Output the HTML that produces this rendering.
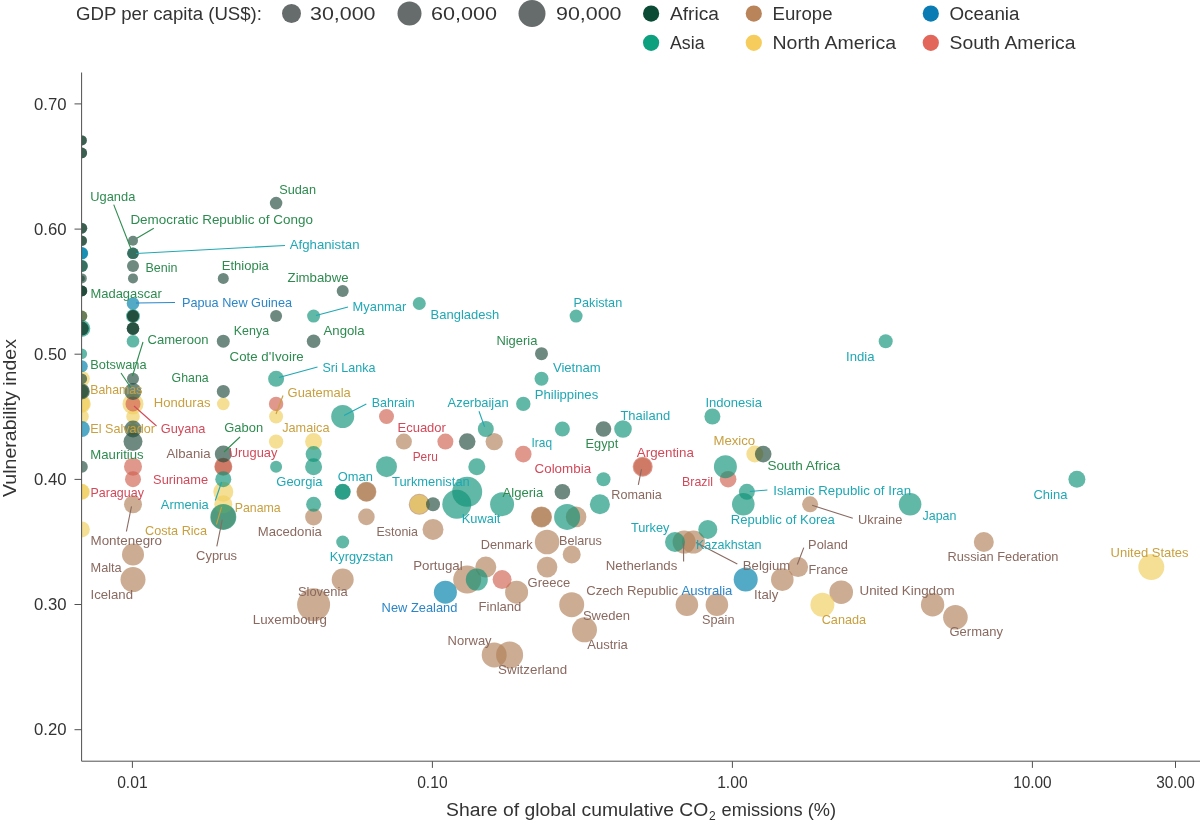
<!DOCTYPE html>
<html><head><meta charset="utf-8"><title>Chart</title>
<style>
html,body{margin:0;padding:0;background:#fff;}
body{width:1200px;height:826px;overflow:hidden;font-family:"Liberation Sans",sans-serif;}
svg{display:block;will-change:transform;font-family:"Liberation Sans",sans-serif;}
.l{font-size:13.0px;}
.t{font-size:16px;fill:#333;}
.g{font-size:19.2px;fill:#333;}
</style></head><body>
<svg width="1200" height="826" viewBox="0 0 1200 826">
<rect width="1200" height="826" fill="#fff"/>
<defs><clipPath id="cp"><rect x="81.8" y="80" width="1130" height="681"/></clipPath></defs>

<g class="g">
<text x="76" y="20" textLength="186" lengthAdjust="spacingAndGlyphs">GDP per capita (US$):</text>
<circle cx="291.5" cy="13.5" r="9.5" fill="#666b6b"/><text x="310" y="20" textLength="65.5" lengthAdjust="spacingAndGlyphs">30,000</text>
<circle cx="409.5" cy="13.5" r="12" fill="#666b6b"/><text x="431" y="20" textLength="66" lengthAdjust="spacingAndGlyphs">60,000</text>
<circle cx="532" cy="13.5" r="13.5" fill="#666b6b"/><text x="556" y="20" textLength="65.5" lengthAdjust="spacingAndGlyphs">90,000</text>
<circle cx="651.1" cy="13.6" r="8.1" fill="#0b4a35"/><text x="670" y="20.2" textLength="49" lengthAdjust="spacingAndGlyphs">Africa</text>
<circle cx="651.1" cy="42.8" r="8.1" fill="#0ca07e"/><text x="670" y="49.4" textLength="34.5" lengthAdjust="spacingAndGlyphs">Asia</text>
<circle cx="753.8" cy="13.6" r="8.1" fill="#b9845a"/><text x="772.5" y="20.2" textLength="60" lengthAdjust="spacingAndGlyphs">Europe</text>
<circle cx="753.8" cy="42.8" r="8.1" fill="#f6cd5c"/><text x="772.5" y="49.4" textLength="123.5" lengthAdjust="spacingAndGlyphs">North America</text>
<circle cx="930.8" cy="13.6" r="8.1" fill="#0b7cb3"/><text x="949.5" y="20.2" textLength="70" lengthAdjust="spacingAndGlyphs">Oceania</text>
<circle cx="930.8" cy="42.8" r="8.1" fill="#e2675a"/><text x="949.5" y="49.4" textLength="126" lengthAdjust="spacingAndGlyphs">South America</text>
</g>
<g clip-path="url(#cp)">
<circle cx="133.0" cy="504.3" r="9" fill="rgb(177,127,87)" fill-opacity="0.65"/>
<circle cx="133.0" cy="554.5" r="11" fill="rgb(177,127,87)" fill-opacity="0.65"/>
<circle cx="133.0" cy="579.6" r="12.5" fill="rgb(177,127,87)" fill-opacity="0.65"/>
<circle cx="223.3" cy="466.7" r="8.5" fill="rgb(177,127,87)" fill-opacity="0.65"/>
<circle cx="223.3" cy="516.9" r="12.5" fill="rgb(177,127,87)" fill-opacity="0.65"/>
<circle cx="313.6" cy="516.9" r="8.5" fill="rgb(177,127,87)" fill-opacity="0.65"/>
<circle cx="313.6" cy="604.7" r="16.5" fill="rgb(177,127,87)" fill-opacity="0.65"/>
<circle cx="342.7" cy="579.6" r="11" fill="rgb(177,127,87)" fill-opacity="0.65"/>
<circle cx="366.4" cy="491.8" r="10" fill="rgb(177,127,87)" fill-opacity="0.65"/>
<circle cx="366.4" cy="491.8" r="9.5" fill="rgb(177,127,87)" fill-opacity="0.65"/>
<circle cx="366.4" cy="516.9" r="8.3" fill="rgb(177,127,87)" fill-opacity="0.65"/>
<circle cx="403.9" cy="441.6" r="8" fill="rgb(177,127,87)" fill-opacity="0.65"/>
<circle cx="419.3" cy="504.3" r="10.5" fill="rgb(177,127,87)" fill-opacity="0.65"/>
<circle cx="433.0" cy="529.4" r="10.5" fill="rgb(177,127,87)" fill-opacity="0.65"/>
<circle cx="467.2" cy="579.6" r="14" fill="rgb(177,127,87)" fill-opacity="0.65"/>
<circle cx="485.8" cy="567.1" r="10.5" fill="rgb(177,127,87)" fill-opacity="0.65"/>
<circle cx="494.2" cy="441.6" r="8.7" fill="rgb(177,127,87)" fill-opacity="0.65"/>
<circle cx="494.2" cy="654.9" r="12.5" fill="rgb(177,127,87)" fill-opacity="0.65"/>
<circle cx="509.6" cy="654.9" r="13.5" fill="rgb(177,127,87)" fill-opacity="0.65"/>
<circle cx="516.6" cy="592.2" r="11.5" fill="rgb(177,127,87)" fill-opacity="0.65"/>
<circle cx="541.5" cy="516.9" r="10.5" fill="rgb(177,127,87)" fill-opacity="0.65"/>
<circle cx="541.5" cy="516.9" r="10" fill="rgb(177,127,87)" fill-opacity="0.65"/>
<circle cx="547.1" cy="542.0" r="12.3" fill="rgb(177,127,87)" fill-opacity="0.65"/>
<circle cx="547.1" cy="567.1" r="10.3" fill="rgb(177,127,87)" fill-opacity="0.65"/>
<circle cx="576.1" cy="516.9" r="10.3" fill="rgb(177,127,87)" fill-opacity="0.65"/>
<circle cx="571.7" cy="554.5" r="9" fill="rgb(177,127,87)" fill-opacity="0.65"/>
<circle cx="571.7" cy="604.7" r="12.5" fill="rgb(177,127,87)" fill-opacity="0.65"/>
<circle cx="584.5" cy="629.8" r="12.5" fill="rgb(177,127,87)" fill-opacity="0.65"/>
<circle cx="642.7" cy="466.7" r="9" fill="rgb(177,127,87)" fill-opacity="0.65"/>
<circle cx="684.1" cy="542.0" r="11.5" fill="rgb(177,127,87)" fill-opacity="0.65"/>
<circle cx="693.4" cy="542.0" r="11.5" fill="rgb(177,127,87)" fill-opacity="0.65"/>
<circle cx="686.9" cy="604.7" r="11.3" fill="rgb(177,127,87)" fill-opacity="0.65"/>
<circle cx="716.9" cy="604.7" r="11.3" fill="rgb(177,127,87)" fill-opacity="0.65"/>
<circle cx="782.3" cy="579.6" r="11.3" fill="rgb(177,127,87)" fill-opacity="0.65"/>
<circle cx="798.1" cy="567.1" r="10" fill="rgb(177,127,87)" fill-opacity="0.65"/>
<circle cx="810.1" cy="504.3" r="8" fill="rgb(177,127,87)" fill-opacity="0.65"/>
<circle cx="841.2" cy="592.2" r="11.8" fill="rgb(177,127,87)" fill-opacity="0.65"/>
<circle cx="932.6" cy="604.7" r="11.7" fill="rgb(177,127,87)" fill-opacity="0.65"/>
<circle cx="955.4" cy="617.3" r="12.3" fill="rgb(177,127,87)" fill-opacity="0.65"/>
<circle cx="983.8" cy="542.0" r="10" fill="rgb(177,127,87)" fill-opacity="0.65"/>
<circle cx="81.8" cy="316.1" r="5.5" fill="rgb(240,206,92)" fill-opacity="0.65"/>
<circle cx="81.8" cy="378.8" r="8" fill="rgb(240,206,92)" fill-opacity="0.65"/>
<circle cx="81.8" cy="391.4" r="7" fill="rgb(240,206,92)" fill-opacity="0.65"/>
<circle cx="81.8" cy="403.9" r="9" fill="rgb(240,206,92)" fill-opacity="0.65"/>
<circle cx="81.8" cy="403.9" r="8" fill="rgb(240,206,92)" fill-opacity="0.65"/>
<circle cx="81.8" cy="416.5" r="7" fill="rgb(240,206,92)" fill-opacity="0.65"/>
<circle cx="81.8" cy="491.8" r="8" fill="rgb(240,206,92)" fill-opacity="0.65"/>
<circle cx="81.8" cy="491.8" r="7.5" fill="rgb(240,206,92)" fill-opacity="0.65"/>
<circle cx="81.8" cy="529.4" r="8" fill="rgb(240,206,92)" fill-opacity="0.65"/>
<circle cx="133.0" cy="403.9" r="10.5" fill="rgb(240,206,92)" fill-opacity="0.65"/>
<circle cx="133.0" cy="416.5" r="6.8" fill="rgb(240,206,92)" fill-opacity="0.65"/>
<circle cx="133.0" cy="429.0" r="6" fill="rgb(240,206,92)" fill-opacity="0.65"/>
<circle cx="223.3" cy="403.9" r="6.3" fill="rgb(240,206,92)" fill-opacity="0.65"/>
<circle cx="223.3" cy="491.8" r="10" fill="rgb(240,206,92)" fill-opacity="0.65"/>
<circle cx="223.3" cy="504.3" r="9" fill="rgb(240,206,92)" fill-opacity="0.65"/>
<circle cx="276.1" cy="416.5" r="7" fill="rgb(240,206,92)" fill-opacity="0.65"/>
<circle cx="276.1" cy="441.6" r="7.2" fill="rgb(240,206,92)" fill-opacity="0.65"/>
<circle cx="313.6" cy="441.6" r="8.5" fill="rgb(240,206,92)" fill-opacity="0.65"/>
<circle cx="419.3" cy="504.3" r="9.5" fill="rgb(240,206,92)" fill-opacity="0.65"/>
<circle cx="754.8" cy="454.1" r="8.5" fill="rgb(240,206,92)" fill-opacity="0.65"/>
<circle cx="822.4" cy="604.7" r="12" fill="rgb(240,206,92)" fill-opacity="0.65"/>
<circle cx="1151.3" cy="567.1" r="13" fill="rgb(240,206,92)" fill-opacity="0.65"/>
<circle cx="133.0" cy="403.9" r="7.5" fill="rgb(207,95,78)" fill-opacity="0.65"/>
<circle cx="133.0" cy="466.7" r="9" fill="rgb(207,95,78)" fill-opacity="0.65"/>
<circle cx="133.0" cy="479.2" r="8" fill="rgb(207,95,78)" fill-opacity="0.65"/>
<circle cx="223.3" cy="466.7" r="9" fill="rgb(207,95,78)" fill-opacity="0.65"/>
<circle cx="276.1" cy="403.9" r="7.2" fill="rgb(207,95,78)" fill-opacity="0.65"/>
<circle cx="386.5" cy="416.5" r="7.5" fill="rgb(207,95,78)" fill-opacity="0.65"/>
<circle cx="445.4" cy="441.6" r="8" fill="rgb(207,95,78)" fill-opacity="0.65"/>
<circle cx="502.1" cy="579.6" r="9.5" fill="rgb(207,95,78)" fill-opacity="0.65"/>
<circle cx="523.3" cy="454.1" r="8.3" fill="rgb(207,95,78)" fill-opacity="0.65"/>
<circle cx="642.7" cy="466.7" r="10" fill="rgb(207,95,78)" fill-opacity="0.65"/>
<circle cx="728.1" cy="479.2" r="8.3" fill="rgb(207,95,78)" fill-opacity="0.65"/>
<circle cx="81.8" cy="253.3" r="6.3" fill="rgb(0,130,171)" fill-opacity="0.68"/>
<circle cx="81.8" cy="253.3" r="6" fill="rgb(0,130,171)" fill-opacity="0.68"/>
<circle cx="81.8" cy="366.3" r="6" fill="rgb(0,130,171)" fill-opacity="0.68"/>
<circle cx="81.8" cy="429.0" r="8" fill="rgb(0,130,171)" fill-opacity="0.68"/>
<circle cx="133.0" cy="303.5" r="6.3" fill="rgb(0,130,171)" fill-opacity="0.68"/>
<circle cx="445.4" cy="592.2" r="11.5" fill="rgb(0,130,171)" fill-opacity="0.68"/>
<circle cx="745.7" cy="579.6" r="12" fill="rgb(0,130,171)" fill-opacity="0.68"/>
<circle cx="81.8" cy="265.9" r="6" fill="rgb(14,146,118)" fill-opacity="0.65"/>
<circle cx="81.8" cy="328.6" r="8.5" fill="rgb(14,146,118)" fill-opacity="0.65"/>
<circle cx="81.8" cy="328.6" r="7" fill="rgb(14,146,118)" fill-opacity="0.65"/>
<circle cx="81.8" cy="353.7" r="5.3" fill="rgb(14,146,118)" fill-opacity="0.65"/>
<circle cx="133.0" cy="253.3" r="5.8" fill="rgb(14,146,118)" fill-opacity="0.65"/>
<circle cx="133.0" cy="316.1" r="7" fill="rgb(14,146,118)" fill-opacity="0.65"/>
<circle cx="133.0" cy="341.2" r="6.3" fill="rgb(14,146,118)" fill-opacity="0.65"/>
<circle cx="223.3" cy="479.2" r="8" fill="rgb(14,146,118)" fill-opacity="0.65"/>
<circle cx="223.3" cy="516.9" r="13" fill="rgb(14,146,118)" fill-opacity="0.65"/>
<circle cx="276.1" cy="378.8" r="8" fill="rgb(14,146,118)" fill-opacity="0.65"/>
<circle cx="276.1" cy="466.7" r="6" fill="rgb(14,146,118)" fill-opacity="0.65"/>
<circle cx="313.6" cy="316.1" r="6.5" fill="rgb(14,146,118)" fill-opacity="0.65"/>
<circle cx="313.6" cy="454.1" r="8" fill="rgb(14,146,118)" fill-opacity="0.65"/>
<circle cx="313.6" cy="466.7" r="8.5" fill="rgb(14,146,118)" fill-opacity="0.65"/>
<circle cx="313.6" cy="504.3" r="7.5" fill="rgb(14,146,118)" fill-opacity="0.65"/>
<circle cx="342.7" cy="416.5" r="11.5" fill="rgb(14,146,118)" fill-opacity="0.65"/>
<circle cx="342.7" cy="491.8" r="8" fill="rgb(14,146,118)" fill-opacity="0.65"/>
<circle cx="342.7" cy="491.8" r="7.8" fill="rgb(14,146,118)" fill-opacity="0.65"/>
<circle cx="342.7" cy="542.0" r="6.5" fill="rgb(14,146,118)" fill-opacity="0.65"/>
<circle cx="386.5" cy="466.7" r="10.5" fill="rgb(14,146,118)" fill-opacity="0.65"/>
<circle cx="419.3" cy="303.5" r="6.5" fill="rgb(14,146,118)" fill-opacity="0.65"/>
<circle cx="456.8" cy="504.3" r="14.5" fill="rgb(14,146,118)" fill-opacity="0.65"/>
<circle cx="467.2" cy="491.8" r="15" fill="rgb(14,146,118)" fill-opacity="0.65"/>
<circle cx="476.8" cy="466.7" r="8.5" fill="rgb(14,146,118)" fill-opacity="0.65"/>
<circle cx="476.8" cy="579.6" r="11" fill="rgb(14,146,118)" fill-opacity="0.65"/>
<circle cx="485.8" cy="429.0" r="8" fill="rgb(14,146,118)" fill-opacity="0.65"/>
<circle cx="502.1" cy="504.3" r="12" fill="rgb(14,146,118)" fill-opacity="0.65"/>
<circle cx="523.3" cy="403.9" r="7.2" fill="rgb(14,146,118)" fill-opacity="0.65"/>
<circle cx="541.5" cy="378.8" r="7" fill="rgb(14,146,118)" fill-opacity="0.65"/>
<circle cx="562.4" cy="429.0" r="7.5" fill="rgb(14,146,118)" fill-opacity="0.65"/>
<circle cx="567.1" cy="516.9" r="13" fill="rgb(14,146,118)" fill-opacity="0.65"/>
<circle cx="576.1" cy="316.1" r="6.5" fill="rgb(14,146,118)" fill-opacity="0.65"/>
<circle cx="603.5" cy="479.2" r="7" fill="rgb(14,146,118)" fill-opacity="0.65"/>
<circle cx="599.9" cy="504.3" r="10" fill="rgb(14,146,118)" fill-opacity="0.65"/>
<circle cx="623.0" cy="429.0" r="8.8" fill="rgb(14,146,118)" fill-opacity="0.65"/>
<circle cx="675.0" cy="542.0" r="10" fill="rgb(14,146,118)" fill-opacity="0.65"/>
<circle cx="707.8" cy="529.4" r="9.5" fill="rgb(14,146,118)" fill-opacity="0.65"/>
<circle cx="712.4" cy="416.5" r="8" fill="rgb(14,146,118)" fill-opacity="0.65"/>
<circle cx="725.4" cy="466.7" r="11.5" fill="rgb(14,146,118)" fill-opacity="0.65"/>
<circle cx="743.3" cy="504.3" r="11.3" fill="rgb(14,146,118)" fill-opacity="0.65"/>
<circle cx="746.9" cy="491.8" r="8" fill="rgb(14,146,118)" fill-opacity="0.65"/>
<circle cx="885.7" cy="341.2" r="7" fill="rgb(14,146,118)" fill-opacity="0.65"/>
<circle cx="910.1" cy="504.3" r="11.3" fill="rgb(14,146,118)" fill-opacity="0.65"/>
<circle cx="1076.9" cy="479.2" r="8.5" fill="rgb(14,146,118)" fill-opacity="0.65"/>
<circle cx="81.8" cy="140.4" r="5" fill="rgb(32,73,58)" fill-opacity="0.65"/>
<circle cx="81.8" cy="140.4" r="5" fill="rgb(32,73,58)" fill-opacity="0.65"/>
<circle cx="81.8" cy="152.9" r="5.3" fill="rgb(32,73,58)" fill-opacity="0.65"/>
<circle cx="81.8" cy="152.9" r="5.3" fill="rgb(32,73,58)" fill-opacity="0.65"/>
<circle cx="81.8" cy="228.2" r="5.5" fill="rgb(32,73,58)" fill-opacity="0.65"/>
<circle cx="81.8" cy="228.2" r="5.3" fill="rgb(32,73,58)" fill-opacity="0.65"/>
<circle cx="81.8" cy="240.8" r="5.3" fill="rgb(32,73,58)" fill-opacity="0.65"/>
<circle cx="81.8" cy="240.8" r="5" fill="rgb(32,73,58)" fill-opacity="0.65"/>
<circle cx="81.8" cy="265.9" r="6" fill="rgb(32,73,58)" fill-opacity="0.65"/>
<circle cx="81.8" cy="278.4" r="5" fill="rgb(32,73,58)" fill-opacity="0.65"/>
<circle cx="81.8" cy="278.4" r="3" fill="rgb(32,73,58)" fill-opacity="0.65"/>
<circle cx="81.8" cy="290.9" r="5.5" fill="rgb(32,73,58)" fill-opacity="0.65"/>
<circle cx="81.8" cy="290.9" r="5.3" fill="rgb(32,73,58)" fill-opacity="0.65"/>
<circle cx="81.8" cy="290.9" r="5.3" fill="rgb(32,73,58)" fill-opacity="0.65"/>
<circle cx="81.8" cy="290.9" r="5" fill="rgb(32,73,58)" fill-opacity="0.65"/>
<circle cx="81.8" cy="316.1" r="5.5" fill="rgb(32,73,58)" fill-opacity="0.65"/>
<circle cx="81.8" cy="328.6" r="7" fill="rgb(32,73,58)" fill-opacity="0.65"/>
<circle cx="81.8" cy="328.6" r="6.5" fill="rgb(32,73,58)" fill-opacity="0.65"/>
<circle cx="81.8" cy="378.8" r="5.3" fill="rgb(32,73,58)" fill-opacity="0.65"/>
<circle cx="81.8" cy="391.4" r="8" fill="rgb(32,73,58)" fill-opacity="0.65"/>
<circle cx="81.8" cy="391.4" r="7" fill="rgb(32,73,58)" fill-opacity="0.65"/>
<circle cx="81.8" cy="466.7" r="6" fill="rgb(32,73,58)" fill-opacity="0.65"/>
<circle cx="133.0" cy="240.8" r="5" fill="rgb(32,73,58)" fill-opacity="0.65"/>
<circle cx="133.0" cy="253.3" r="5.8" fill="rgb(32,73,58)" fill-opacity="0.65"/>
<circle cx="133.0" cy="265.9" r="6" fill="rgb(32,73,58)" fill-opacity="0.65"/>
<circle cx="133.0" cy="278.4" r="5" fill="rgb(32,73,58)" fill-opacity="0.65"/>
<circle cx="133.0" cy="316.1" r="6" fill="rgb(32,73,58)" fill-opacity="0.65"/>
<circle cx="133.0" cy="316.1" r="6" fill="rgb(32,73,58)" fill-opacity="0.65"/>
<circle cx="133.0" cy="316.1" r="5.8" fill="rgb(32,73,58)" fill-opacity="0.65"/>
<circle cx="133.0" cy="328.6" r="6.3" fill="rgb(32,73,58)" fill-opacity="0.65"/>
<circle cx="133.0" cy="328.6" r="6.3" fill="rgb(32,73,58)" fill-opacity="0.65"/>
<circle cx="133.0" cy="328.6" r="6" fill="rgb(32,73,58)" fill-opacity="0.65"/>
<circle cx="133.0" cy="378.8" r="6" fill="rgb(32,73,58)" fill-opacity="0.65"/>
<circle cx="133.0" cy="391.4" r="8.5" fill="rgb(32,73,58)" fill-opacity="0.65"/>
<circle cx="133.0" cy="429.0" r="8.5" fill="rgb(32,73,58)" fill-opacity="0.65"/>
<circle cx="133.0" cy="441.6" r="9.5" fill="rgb(32,73,58)" fill-opacity="0.65"/>
<circle cx="223.3" cy="278.4" r="5.5" fill="rgb(32,73,58)" fill-opacity="0.65"/>
<circle cx="223.3" cy="341.2" r="6.5" fill="rgb(32,73,58)" fill-opacity="0.65"/>
<circle cx="223.3" cy="391.4" r="6.5" fill="rgb(32,73,58)" fill-opacity="0.65"/>
<circle cx="223.3" cy="454.1" r="8.5" fill="rgb(32,73,58)" fill-opacity="0.65"/>
<circle cx="276.1" cy="203.1" r="6.3" fill="rgb(32,73,58)" fill-opacity="0.65"/>
<circle cx="276.1" cy="316.1" r="6" fill="rgb(32,73,58)" fill-opacity="0.65"/>
<circle cx="313.6" cy="341.2" r="6.8" fill="rgb(32,73,58)" fill-opacity="0.65"/>
<circle cx="342.7" cy="290.9" r="6" fill="rgb(32,73,58)" fill-opacity="0.65"/>
<circle cx="433.0" cy="504.3" r="7" fill="rgb(32,73,58)" fill-opacity="0.65"/>
<circle cx="467.2" cy="441.6" r="8.3" fill="rgb(32,73,58)" fill-opacity="0.65"/>
<circle cx="541.5" cy="353.7" r="6.5" fill="rgb(32,73,58)" fill-opacity="0.65"/>
<circle cx="562.4" cy="491.8" r="7.8" fill="rgb(32,73,58)" fill-opacity="0.65"/>
<circle cx="603.5" cy="429.0" r="7.8" fill="rgb(32,73,58)" fill-opacity="0.65"/>
<circle cx="763.2" cy="454.1" r="8.3" fill="rgb(32,73,58)" fill-opacity="0.65"/>
</g>
<g stroke-width="1.1" fill="none">
<line x1="113.7" y1="204.6" x2="131" y2="249" stroke="#2e8b50"/>
<line x1="153.8" y1="228.2" x2="136.8" y2="238.2" stroke="#2e8b50"/>
<line x1="285" y1="245.5" x2="136" y2="253.5" stroke="#1fa8b4"/>
<line x1="175" y1="302.5" x2="136" y2="303" stroke="#2b86c8"/>
<line x1="348" y1="307" x2="316" y2="315.5" stroke="#1fa8b4"/>
<line x1="143" y1="342" x2="132.5" y2="376" stroke="#2e8b50"/>
<line x1="121" y1="373" x2="131" y2="388" stroke="#2e8b50"/>
<line x1="134" y1="406" x2="156.5" y2="426" stroke="#d24a5a"/>
<line x1="317.5" y1="367" x2="279" y2="377.5" stroke="#1fa8b4"/>
<line x1="283" y1="395.5" x2="276" y2="414" stroke="#c9a040"/>
<line x1="240" y1="437" x2="224" y2="452" stroke="#2e8b50"/>
<line x1="366.3" y1="404" x2="344" y2="415.5" stroke="#1fa8b4"/>
<line x1="479" y1="411.2" x2="484.6" y2="426.9" stroke="#1fa8b4"/>
<line x1="221.6" y1="482" x2="215.3" y2="500.5" stroke="#1fa8b4"/>
<line x1="221.6" y1="507" x2="216.4" y2="524.5" stroke="#c9a040"/>
<line x1="222.3" y1="519.7" x2="216.8" y2="546.3" stroke="#8a6a60"/>
<line x1="131.5" y1="506.4" x2="126.4" y2="531.5" stroke="#8a6a60"/>
<line x1="641.5" y1="469.2" x2="638.3" y2="484.9" stroke="#8a6a60"/>
<line x1="683.6" y1="543.3" x2="683.6" y2="561.6" stroke="#8a6a60"/>
<line x1="696" y1="542.5" x2="737.3" y2="564" stroke="#8a6a60"/>
<line x1="749.8" y1="491.5" x2="767.4" y2="490" stroke="#1fa8b4"/>
<line x1="812.1" y1="505.3" x2="852.8" y2="518.3" stroke="#8a6a60"/>
<line x1="803.8" y1="547.6" x2="797.3" y2="564.5" stroke="#8a6a60"/>
</g>
<g class="l">
<text x="90.3" y="200.9" fill="#2e8b50" textLength="45" lengthAdjust="spacingAndGlyphs">Uganda</text>
<text x="130.4" y="224.3" fill="#2e8b50" textLength="182.5" lengthAdjust="spacingAndGlyphs">Democratic Republic of Congo</text>
<text x="145.4" y="272.1" fill="#2e8b50" textLength="32" lengthAdjust="spacingAndGlyphs">Benin</text>
<text x="221.7" y="269.5" fill="#2e8b50" textLength="47.1" lengthAdjust="spacingAndGlyphs">Ethiopia</text>
<text x="279.2" y="193.8" fill="#2e8b50" textLength="36.8" lengthAdjust="spacingAndGlyphs">Sudan</text>
<text x="289.8" y="249.0" fill="#1fa8b4" textLength="69.7" lengthAdjust="spacingAndGlyphs">Afghanistan</text>
<text x="287.6" y="281.5" fill="#2e8b50" textLength="61" lengthAdjust="spacingAndGlyphs">Zimbabwe</text>
<text x="182" y="306.7" fill="#2b86c8" textLength="110" lengthAdjust="spacingAndGlyphs">Papua New Guinea</text>
<text x="352.6" y="310.8" fill="#1fa8b4" textLength="53.6" lengthAdjust="spacingAndGlyphs">Myanmar</text>
<text x="233.8" y="335.4" fill="#2e8b50" textLength="35.3" lengthAdjust="spacingAndGlyphs">Kenya</text>
<text x="323.6" y="335.4" fill="#2e8b50" textLength="41" lengthAdjust="spacingAndGlyphs">Angola</text>
<text x="90.5" y="298.0" fill="#2e8b50" textLength="71.2" lengthAdjust="spacingAndGlyphs">Madagascar</text>
<text x="147.5" y="343.8" fill="#2e8b50" textLength="61" lengthAdjust="spacingAndGlyphs">Cameroon</text>
<text x="90.3" y="368.8" fill="#2e8b50" textLength="56.2" lengthAdjust="spacingAndGlyphs">Botswana</text>
<text x="171.6" y="382.0" fill="#2e8b50" textLength="37" lengthAdjust="spacingAndGlyphs">Ghana</text>
<text x="90.3" y="393.9" fill="#c9a040" textLength="52" lengthAdjust="spacingAndGlyphs">Bahamas</text>
<text x="153.8" y="407.4" fill="#c9a040" textLength="56.7" lengthAdjust="spacingAndGlyphs">Honduras</text>
<text x="90.3" y="432.8" fill="#c9a040" textLength="64.6" lengthAdjust="spacingAndGlyphs">El Salvador</text>
<text x="160.7" y="432.8" fill="#d24a5a" textLength="44.8" lengthAdjust="spacingAndGlyphs">Guyana</text>
<text x="224.3" y="432.3" fill="#2e8b50" textLength="38.8" lengthAdjust="spacingAndGlyphs">Gabon</text>
<text x="90.3" y="458.7" fill="#2e8b50" textLength="53.4" lengthAdjust="spacingAndGlyphs">Mauritius</text>
<text x="166.5" y="458.1" fill="#8a6a60" textLength="44" lengthAdjust="spacingAndGlyphs">Albania</text>
<text x="228.8" y="457.4" fill="#d24a5a" textLength="48.6" lengthAdjust="spacingAndGlyphs">Uruguay</text>
<text x="229.6" y="360.9" fill="#2e8b50" textLength="74.1" lengthAdjust="spacingAndGlyphs">Cote d'Ivoire</text>
<text x="322.5" y="371.7" fill="#1fa8b4" textLength="53" lengthAdjust="spacingAndGlyphs">Sri Lanka</text>
<text x="287.6" y="396.8" fill="#c9a040" textLength="63.2" lengthAdjust="spacingAndGlyphs">Guatemala</text>
<text x="282.2" y="431.6" fill="#c9a040" textLength="47.3" lengthAdjust="spacingAndGlyphs">Jamaica</text>
<text x="208.1" y="483.9" fill="#d24a5a" text-anchor="end" textLength="55" lengthAdjust="spacingAndGlyphs">Suriname</text>
<text x="276.3" y="486.1" fill="#1fa8b4" textLength="46.2" lengthAdjust="spacingAndGlyphs">Georgia</text>
<text x="337.8" y="481.3" fill="#1fa8b4" textLength="35.1" lengthAdjust="spacingAndGlyphs">Oman</text>
<text x="208.8" y="509.3" fill="#1fa8b4" text-anchor="end" textLength="48" lengthAdjust="spacingAndGlyphs">Armenia</text>
<text x="234.7" y="511.5" fill="#c9a040" textLength="46" lengthAdjust="spacingAndGlyphs">Panama</text>
<text x="207" y="535.2" fill="#c9a040" text-anchor="end" textLength="62" lengthAdjust="spacingAndGlyphs">Costa Rica</text>
<text x="257.8" y="536.3" fill="#8a6a60" textLength="64.1" lengthAdjust="spacingAndGlyphs">Macedonia</text>
<text x="196.1" y="559.8" fill="#8a6a60" textLength="41" lengthAdjust="spacingAndGlyphs">Cyprus</text>
<text x="329.7" y="560.9" fill="#1fa8b4" textLength="63.4" lengthAdjust="spacingAndGlyphs">Kyrgyzstan</text>
<text x="297.9" y="595.8" fill="#8a6a60" textLength="49.7" lengthAdjust="spacingAndGlyphs">Slovenia</text>
<text x="252.8" y="624.1" fill="#8a6a60" textLength="74.1" lengthAdjust="spacingAndGlyphs">Luxembourg</text>
<text x="90.5" y="496.7" fill="#d24a5a" textLength="53.4" lengthAdjust="spacingAndGlyphs">Paraguay</text>
<text x="90.5" y="544.6" fill="#8a6a60" textLength="71.5" lengthAdjust="spacingAndGlyphs">Montenegro</text>
<text x="90.5" y="571.9" fill="#8a6a60" textLength="31.2" lengthAdjust="spacingAndGlyphs">Malta</text>
<text x="90.5" y="598.5" fill="#8a6a60" textLength="42.5" lengthAdjust="spacingAndGlyphs">Iceland</text>
<text x="430.6" y="318.5" fill="#1fa8b4" textLength="68.6" lengthAdjust="spacingAndGlyphs">Bangladesh</text>
<text x="496.4" y="344.8" fill="#2e8b50" textLength="41" lengthAdjust="spacingAndGlyphs">Nigeria</text>
<text x="371.8" y="407.4" fill="#1fa8b4" textLength="42.9" lengthAdjust="spacingAndGlyphs">Bahrain</text>
<text x="447.6" y="407.4" fill="#1fa8b4" textLength="61" lengthAdjust="spacingAndGlyphs">Azerbaijan</text>
<text x="397.5" y="431.8" fill="#d24a5a" textLength="48.4" lengthAdjust="spacingAndGlyphs">Ecuador</text>
<text x="534.8" y="399.2" fill="#1fa8b4" textLength="63.4" lengthAdjust="spacingAndGlyphs">Philippines</text>
<text x="552.9" y="371.8" fill="#1fa8b4" textLength="47.9" lengthAdjust="spacingAndGlyphs">Vietnam</text>
<text x="573.6" y="306.5" fill="#1fa8b4" textLength="48.6" lengthAdjust="spacingAndGlyphs">Pakistan</text>
<text x="620.4" y="420.1" fill="#1fa8b4" textLength="49.7" lengthAdjust="spacingAndGlyphs">Thailand</text>
<text x="705.4" y="406.5" fill="#1fa8b4" textLength="56.6" lengthAdjust="spacingAndGlyphs">Indonesia</text>
<text x="531.5" y="446.8" fill="#1fa8b4" textLength="20.5" lengthAdjust="spacingAndGlyphs">Iraq</text>
<text x="585.6" y="448.0" fill="#2e8b50" textLength="32.7" lengthAdjust="spacingAndGlyphs">Egypt</text>
<text x="412.7" y="460.8" fill="#d24a5a" textLength="25.1" lengthAdjust="spacingAndGlyphs">Peru</text>
<text x="392" y="486.3" fill="#1fa8b4" textLength="77.8" lengthAdjust="spacingAndGlyphs">Turkmenistan</text>
<text x="502.5" y="496.8" fill="#2e8b50" textLength="40.7" lengthAdjust="spacingAndGlyphs">Algeria</text>
<text x="461.8" y="523.3" fill="#1fa8b4" textLength="38.6" lengthAdjust="spacingAndGlyphs">Kuwait</text>
<text x="376.6" y="536.0" fill="#8a6a60" textLength="41.4" lengthAdjust="spacingAndGlyphs">Estonia</text>
<text x="480.7" y="548.6" fill="#8a6a60" textLength="51.9" lengthAdjust="spacingAndGlyphs">Denmark</text>
<text x="413.2" y="570.2" fill="#8a6a60" textLength="49.5" lengthAdjust="spacingAndGlyphs">Portugal</text>
<text x="527.6" y="586.9" fill="#8a6a60" textLength="42.7" lengthAdjust="spacingAndGlyphs">Greece</text>
<text x="534.5" y="472.7" fill="#d24a5a" textLength="56.6" lengthAdjust="spacingAndGlyphs">Colombia</text>
<text x="381.6" y="612.0" fill="#2b86c8" textLength="75.8" lengthAdjust="spacingAndGlyphs">New Zealand</text>
<text x="478.5" y="610.7" fill="#8a6a60" textLength="42.9" lengthAdjust="spacingAndGlyphs">Finland</text>
<text x="447.6" y="644.6" fill="#8a6a60" textLength="44" lengthAdjust="spacingAndGlyphs">Norway</text>
<text x="498.1" y="673.8" fill="#8a6a60" textLength="69" lengthAdjust="spacingAndGlyphs">Switzerland</text>
<text x="636.8" y="456.6" fill="#d24a5a" textLength="57.1" lengthAdjust="spacingAndGlyphs">Argentina</text>
<text x="682.1" y="486.1" fill="#d24a5a" textLength="30.9" lengthAdjust="spacingAndGlyphs">Brazil</text>
<text x="611.3" y="498.5" fill="#8a6a60" textLength="50.5" lengthAdjust="spacingAndGlyphs">Romania</text>
<text x="630.9" y="531.8" fill="#1fa8b4" textLength="38.6" lengthAdjust="spacingAndGlyphs">Turkey</text>
<text x="559" y="545.4" fill="#8a6a60" textLength="42.9" lengthAdjust="spacingAndGlyphs">Belarus</text>
<text x="605.8" y="569.9" fill="#8a6a60" textLength="71.5" lengthAdjust="spacingAndGlyphs">Netherlands</text>
<text x="586.2" y="594.7" fill="#8a6a60" textLength="91.9" lengthAdjust="spacingAndGlyphs">Czech Republic</text>
<text x="681.4" y="595.1" fill="#2b86c8" textLength="51" lengthAdjust="spacingAndGlyphs">Australia</text>
<text x="696" y="548.7" fill="#1fa8b4" textLength="65.4" lengthAdjust="spacingAndGlyphs">Kazakhstan</text>
<text x="713.4" y="445.0" fill="#c9a040" textLength="41.8" lengthAdjust="spacingAndGlyphs">Mexico</text>
<text x="767.4" y="469.8" fill="#2e8b50" textLength="73" lengthAdjust="spacingAndGlyphs">South Africa</text>
<text x="773.3" y="494.5" fill="#1fa8b4" textLength="137.8" lengthAdjust="spacingAndGlyphs">Islamic Republic of Iran</text>
<text x="730.8" y="523.6" fill="#1fa8b4" textLength="104.1" lengthAdjust="spacingAndGlyphs">Republic of Korea</text>
<text x="808.1" y="548.9" fill="#8a6a60" textLength="39.9" lengthAdjust="spacingAndGlyphs">Poland</text>
<text x="742.8" y="569.8" fill="#8a6a60" textLength="47.5" lengthAdjust="spacingAndGlyphs">Belgium</text>
<text x="808.6" y="574.1" fill="#8a6a60" textLength="39.4" lengthAdjust="spacingAndGlyphs">France</text>
<text x="754.1" y="598.7" fill="#8a6a60" textLength="24.2" lengthAdjust="spacingAndGlyphs">Italy</text>
<text x="702" y="623.8" fill="#8a6a60" textLength="32.5" lengthAdjust="spacingAndGlyphs">Spain</text>
<text x="821.7" y="623.8" fill="#c9a040" textLength="44.4" lengthAdjust="spacingAndGlyphs">Canada</text>
<text x="1033.5" y="499.1" fill="#1fa8b4" textLength="33.9" lengthAdjust="spacingAndGlyphs">China</text>
<text x="922.5" y="519.5" fill="#1fa8b4" textLength="33.9" lengthAdjust="spacingAndGlyphs">Japan</text>
<text x="858" y="524.0" fill="#8a6a60" textLength="44.4" lengthAdjust="spacingAndGlyphs">Ukraine</text>
<text x="947.4" y="560.9" fill="#8a6a60" textLength="111.0" lengthAdjust="spacingAndGlyphs">Russian Federation</text>
<text x="1110.6" y="557.0" fill="#c9a040" textLength="78.0" lengthAdjust="spacingAndGlyphs">United States</text>
<text x="859.5" y="595.1" fill="#8a6a60" textLength="95.1" lengthAdjust="spacingAndGlyphs">United Kingdom</text>
<text x="949.5" y="635.9" fill="#8a6a60" textLength="53.4" lengthAdjust="spacingAndGlyphs">Germany</text>
<text x="582.9" y="619.9" fill="#8a6a60">Sweden</text>
<text x="587.3" y="649.3" fill="#8a6a60">Austria</text>
<text x="846" y="361.0" fill="#1fa8b4" textLength="28.5" lengthAdjust="spacingAndGlyphs">India</text>
</g>
<g stroke="#505050" stroke-width="1" fill="none">
<path d="M81.6 72.5V761.2H1200"/>
<path d="M74.5 729.7H81.6"/>
<path d="M74.5 604.5H81.6"/>
<path d="M74.5 479.4H81.6"/>
<path d="M74.5 354.2H81.6"/>
<path d="M74.5 229.1H81.6"/>
<path d="M74.5 103.9H81.6"/>
<path d="M132.4 761.2V767.9"/>
<path d="M432.4 761.2V767.9"/>
<path d="M732.4 761.2V767.9"/>
<path d="M1032.4 761.2V767.9"/>
<path d="M1175.5 761.2V767.9"/>
</g>
<g class="t">
<text x="66.5" y="735.3" text-anchor="end" textLength="32.5" lengthAdjust="spacingAndGlyphs">0.20</text>
<text x="66.5" y="610.1" text-anchor="end" textLength="32.5" lengthAdjust="spacingAndGlyphs">0.30</text>
<text x="66.5" y="485.0" text-anchor="end" textLength="32.5" lengthAdjust="spacingAndGlyphs">0.40</text>
<text x="66.5" y="359.8" text-anchor="end" textLength="32.5" lengthAdjust="spacingAndGlyphs">0.50</text>
<text x="66.5" y="234.7" text-anchor="end" textLength="32.5" lengthAdjust="spacingAndGlyphs">0.60</text>
<text x="66.5" y="109.5" text-anchor="end" textLength="32.5" lengthAdjust="spacingAndGlyphs">0.70</text>
<text x="132.4" y="788" text-anchor="middle" textLength="30.4" lengthAdjust="spacingAndGlyphs">0.01</text>
<text x="432.4" y="788" text-anchor="middle" textLength="30.4" lengthAdjust="spacingAndGlyphs">0.10</text>
<text x="732.4" y="788" text-anchor="middle" textLength="30.4" lengthAdjust="spacingAndGlyphs">1.00</text>
<text x="1032.4" y="788" text-anchor="middle" textLength="38.5" lengthAdjust="spacingAndGlyphs">10.00</text>
<text x="1175.5" y="788" text-anchor="middle" textLength="38.5" lengthAdjust="spacingAndGlyphs">30.00</text>
</g>
<text class="g" x="446" y="815.5" textLength="262.3" lengthAdjust="spacingAndGlyphs">Share of global cumulative CO</text>
<text class="g" x="709" y="820" style="font-size:12px">2</text>
<text class="g" x="721.6" y="815.5" textLength="114.4" lengthAdjust="spacingAndGlyphs">emissions (%)</text>
<text class="g" transform="translate(16,497) rotate(-90)" textLength="158" lengthAdjust="spacingAndGlyphs">Vulnerability index</text>
</svg></body></html>
